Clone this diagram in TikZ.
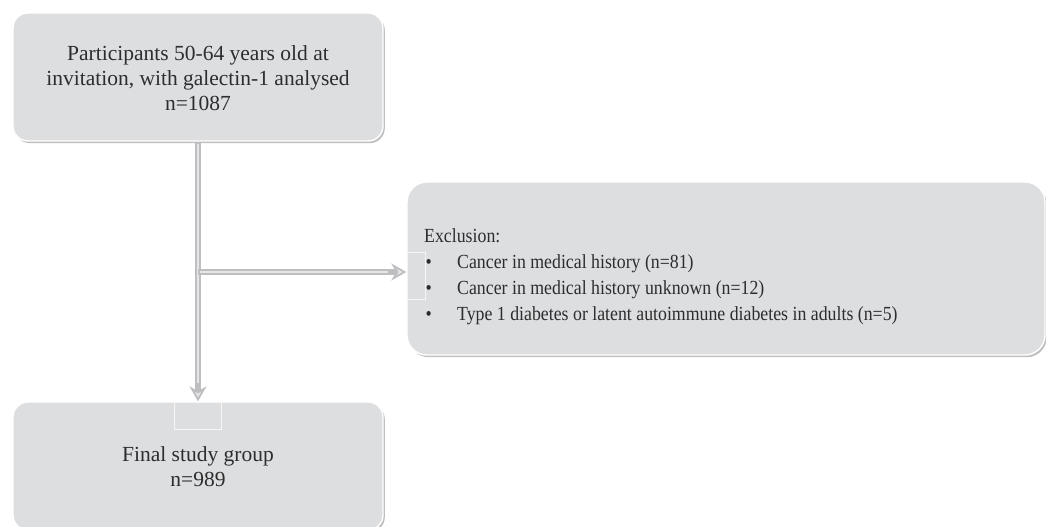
\documentclass[tikz,border=0pt]{standalone}
\usepackage{fontspec}
\setmainfont{Liberation Serif}
\newfontfamily\narrowserif{Liberation Serif}[FakeStretch=0.89]
\usetikzlibrary{shadows,arrows.meta,calc}
\definecolor{boxfill}{RGB}{221,222,224}
\definecolor{boxtext}{RGB}{45,45,45}
\definecolor{lineout}{RGB}{190,190,192}
\definecolor{linein}{RGB}{230,230,232}
\tikzset{
  flowbox/.style={draw=white, line width=1.4pt, fill=boxfill, rounded corners=15pt,
    drop shadow={shadow xshift=1.8pt, shadow yshift=-2.2pt, opacity=0.45, fill=black!55},
    inner sep=0pt},
  boxlabel/.style={text=boxtext, inner sep=0pt},
  connout/.style={draw=lineout, line width=5.5pt},
  connin/.style={draw=linein, line width=2pt},
  opentip/.style={-{Stealth[open, length=15pt, width=17pt, inset=5pt, line width=1.8pt, fill=linein]}},
  artifact/.style={draw=white!70!boxfill, line width=0.6pt}
}
\begin{document}
\begin{tikzpicture}[x=1pt,y=-1pt]
\useasboundingbox[fill=white] (0,0) rectangle (1046,527);
% boxes
\node[flowbox, minimum width=370pt, minimum height=128pt] (top) at (198,77) {};
\node[flowbox, minimum width=638pt, minimum height=173pt, rounded corners=20pt] (excl) at (726,268.5) {};
\node[flowbox, minimum width=370pt, minimum height=128pt] (bot) at (198,466) {};
% texts
\node[boxlabel, align=center, font=\fontsize{21.5}{25}\selectfont] (toptext) at (198,78)
  {Participants 50-64 years old at\\invitation, with galectin-1 analysed\\n=1087};
\node[boxlabel, align=center, font=\fontsize{21.5}{24.5}\selectfont] (bottext) at (198,466.5)
  {Final study group\\n=989};
\node[boxlabel, anchor=west, font=\narrowserif\fontsize{20}{26}\selectfont] (excltext) at (424,276.5)
  {\begin{tabular}{@{}l@{}l@{}}
   \multicolumn{2}{@{}l@{}}{Exclusion:}\\
   \makebox[33pt][l]{\hspace{1.5pt}\textbullet} & Cancer in medical history (n=81)\\
   \makebox[33pt][l]{\hspace{1.5pt}\textbullet} & Cancer in medical history unknown (n=12)\\
   \makebox[33pt][l]{\hspace{1.5pt}\textbullet} & Type 1 diabetes or latent autoimmune diabetes in adults (n=5)
   \end{tabular}};
% faint artefacts visible in the reference
\draw[artifact] (174,402) rectangle (221,429);
\draw[artifact] (407,252) -- (425,252) -- (425,299) -- (407,299);
% connectors
\coordinate (branch) at (198,272);
\coordinate (excltip) at (excl.west |- branch);
\draw[connout, opentip] (top.south) -- (bot.north);
\draw[connin] ($(top.south)+(0,2)$) -- ($(bot.north)+(0,-18)$);
\draw[connout, opentip] (branch) -- (excltip);
\draw[connin] ($(branch)+(2,0)$) -- ($(excltip)+(-18,0)$);
\end{tikzpicture}
\end{document}
